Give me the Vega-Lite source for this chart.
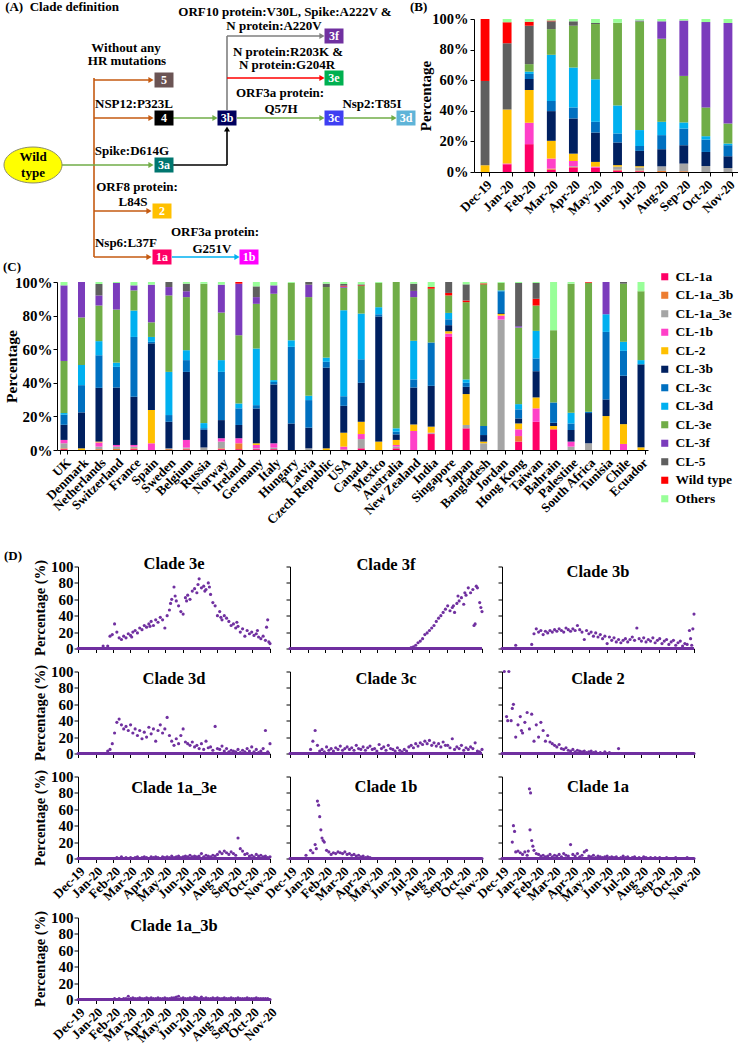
{
"$schema":"https://vega.github.io/schema/vega-lite/v6.json",
"padding":{"left":2,"top":1,"right":0,"bottom":0},
"autosize":{"type":"pad"},
"config":{
"font":"Liberation Serif",
"view":{"stroke":null},
"axis":{"labelFont":"Liberation Serif","labelFontWeight":"bold","labelColor":"#000","titleFont":"Liberation Serif","titleFontWeight":"bold","titleColor":"#000","domainColor":"#000","tickColor":"#000","grid":false,"labelFontSize":13,"tickSize":4},
"title":{"font":"Liberation Serif","fontWeight":"bold","color":"#000","fontSize":16.5},
"legend":{"labelFont":"Liberation Serif","labelFontWeight":"bold","labelColor":"#000","labelFontSize":13.5},
"text":{"font":"Liberation Serif"}
},
"datasets":{
"nodes":[{"id":"5","x":162,"y":80},{"id":"4","x":162,"y":118},{"id":"3a","x":162,"y":165},{"id":"2","x":160,"y":211},{"id":"1a","x":160,"y":257},{"id":"1b","x":247,"y":257},{"id":"3b","x":225,"y":118},{"id":"3f","x":332,"y":36},{"id":"3e","x":332,"y":78},{"id":"3c","x":332,"y":118},{"id":"3d","x":404,"y":118}],
"d":[
{"c":"3e","d":"2019-12-01","v":0},{"c":"3e","d":"2019-12-05","v":0},{"c":"3e","d":"2019-12-09","v":0},{"c":"3e","d":"2019-12-13","v":0},{"c":"3e","d":"2019-12-17","v":0},{"c":"3e","d":"2019-12-21","v":0},{"c":"3e","d":"2019-12-25","v":0},{"c":"3e","d":"2019-12-29","v":0},{"c":"3e","d":"2020-01-02","v":0},{"c":"3e","d":"2020-01-06","v":0},{"c":"3e","d":"2020-01-10","v":0},{"c":"3e","d":"2020-01-14","v":3},{"c":"3e","d":"2020-01-18","v":0},{"c":"3e","d":"2020-01-22","v":3},{"c":"3e","d":"2020-01-26","v":15},{"c":"3e","d":"2020-01-30","v":17},{"c":"3e","d":"2020-02-03","v":30},{"c":"3e","d":"2020-02-07","v":20},{"c":"3e","d":"2020-02-11","v":13},{"c":"3e","d":"2020-02-15","v":11},{"c":"3e","d":"2020-02-19","v":15},{"c":"3e","d":"2020-02-23","v":13},{"c":"3e","d":"2020-02-27","v":18},{"c":"3e","d":"2020-03-02","v":16},{"c":"3e","d":"2020-03-06","v":20},{"c":"3e","d":"2020-03-10","v":22},{"c":"3e","d":"2020-03-14","v":19},{"c":"3e","d":"2020-03-18","v":25},{"c":"3e","d":"2020-03-22","v":23},{"c":"3e","d":"2020-03-26","v":28},{"c":"3e","d":"2020-03-30","v":26},{"c":"3e","d":"2020-04-03","v":30},{"c":"3e","d":"2020-04-07","v":33},{"c":"3e","d":"2020-04-11","v":28},{"c":"3e","d":"2020-04-15","v":35},{"c":"3e","d":"2020-04-19","v":32},{"c":"3e","d":"2020-04-23","v":38},{"c":"3e","d":"2020-04-27","v":35},{"c":"3e","d":"2020-05-01","v":25},{"c":"3e","d":"2020-05-05","v":40},{"c":"3e","d":"2020-05-09","v":47},{"c":"3e","d":"2020-05-13","v":60},{"c":"3e","d":"2020-05-17","v":75},{"c":"3e","d":"2020-05-21","v":58},{"c":"3e","d":"2020-05-25","v":52},{"c":"3e","d":"2020-05-29","v":45},{"c":"3e","d":"2020-06-02","v":42},{"c":"3e","d":"2020-06-06","v":62},{"c":"3e","d":"2020-06-10","v":65},{"c":"3e","d":"2020-06-14","v":60},{"c":"3e","d":"2020-06-18","v":70},{"c":"3e","d":"2020-06-22","v":73},{"c":"3e","d":"2020-06-26","v":68},{"c":"3e","d":"2020-06-30","v":85},{"c":"3e","d":"2020-07-04","v":74},{"c":"3e","d":"2020-07-08","v":76},{"c":"3e","d":"2020-07-12","v":72},{"c":"3e","d":"2020-07-16","v":80},{"c":"3e","d":"2020-07-20","v":66},{"c":"3e","d":"2020-07-24","v":56},{"c":"3e","d":"2020-07-28","v":52},{"c":"3e","d":"2020-08-01","v":40},{"c":"3e","d":"2020-08-05","v":45},{"c":"3e","d":"2020-08-09","v":35},{"c":"3e","d":"2020-08-13","v":40},{"c":"3e","d":"2020-08-17","v":37},{"c":"3e","d":"2020-08-21","v":33},{"c":"3e","d":"2020-08-25","v":28},{"c":"3e","d":"2020-08-29","v":30},{"c":"3e","d":"2020-09-02","v":25},{"c":"3e","d":"2020-09-06","v":27},{"c":"3e","d":"2020-09-10","v":20},{"c":"3e","d":"2020-09-14","v":24},{"c":"3e","d":"2020-09-18","v":15},{"c":"3e","d":"2020-09-22","v":22},{"c":"3e","d":"2020-09-26","v":18},{"c":"3e","d":"2020-09-30","v":20},{"c":"3e","d":"2020-10-04","v":16},{"c":"3e","d":"2020-10-08","v":18},{"c":"3e","d":"2020-10-12","v":14},{"c":"3e","d":"2020-10-16","v":12},{"c":"3e","d":"2020-10-20","v":15},{"c":"3e","d":"2020-10-24","v":10},{"c":"3e","d":"2020-10-28","v":35},{"c":"3e","d":"2020-11-01","v":6},
{"c":"3e","d":"2020-03-04","v":14},{"c":"3e","d":"2020-04-05","v":27},{"c":"3e","d":"2020-05-11","v":55},{"c":"3e","d":"2020-05-19","v":64},{"c":"3e","d":"2020-06-08","v":58},{"c":"3e","d":"2020-06-28","v":78},{"c":"3e","d":"2020-07-10","v":70},{"c":"3e","d":"2020-07-18","v":75},{"c":"3e","d":"2020-08-07","v":38},{"c":"3e","d":"2020-09-04","v":32},{"c":"3e","d":"2020-10-10","v":22},{"c":"3e","d":"2020-10-26","v":26},{"c":"3e","d":"2020-10-30","v":8},
{"c":"3f","d":"2019-12-01","v":0},{"c":"3f","d":"2019-12-05","v":0},{"c":"3f","d":"2019-12-09","v":0},{"c":"3f","d":"2019-12-13","v":0},{"c":"3f","d":"2019-12-17","v":0},{"c":"3f","d":"2019-12-21","v":0},{"c":"3f","d":"2019-12-25","v":0},{"c":"3f","d":"2019-12-29","v":0},{"c":"3f","d":"2020-01-02","v":0},{"c":"3f","d":"2020-01-06","v":0},{"c":"3f","d":"2020-01-10","v":0},{"c":"3f","d":"2020-01-14","v":0},{"c":"3f","d":"2020-01-18","v":0},{"c":"3f","d":"2020-01-22","v":0},{"c":"3f","d":"2020-01-26","v":0},{"c":"3f","d":"2020-01-30","v":0},{"c":"3f","d":"2020-02-03","v":0},{"c":"3f","d":"2020-02-07","v":0},{"c":"3f","d":"2020-02-11","v":0},{"c":"3f","d":"2020-02-15","v":0},{"c":"3f","d":"2020-02-19","v":0},{"c":"3f","d":"2020-02-23","v":0},{"c":"3f","d":"2020-02-27","v":0},{"c":"3f","d":"2020-03-02","v":0},{"c":"3f","d":"2020-03-06","v":0},{"c":"3f","d":"2020-03-10","v":0},{"c":"3f","d":"2020-03-14","v":0},{"c":"3f","d":"2020-03-18","v":0},{"c":"3f","d":"2020-03-22","v":0},{"c":"3f","d":"2020-03-26","v":0},{"c":"3f","d":"2020-03-30","v":0},{"c":"3f","d":"2020-04-03","v":0},{"c":"3f","d":"2020-04-07","v":0},{"c":"3f","d":"2020-04-11","v":0},{"c":"3f","d":"2020-04-15","v":0},{"c":"3f","d":"2020-04-19","v":0},{"c":"3f","d":"2020-04-23","v":0},{"c":"3f","d":"2020-04-27","v":0},{"c":"3f","d":"2020-05-01","v":0},{"c":"3f","d":"2020-05-05","v":0},{"c":"3f","d":"2020-05-09","v":0},{"c":"3f","d":"2020-05-13","v":0},{"c":"3f","d":"2020-05-17","v":0},{"c":"3f","d":"2020-05-21","v":0},{"c":"3f","d":"2020-05-25","v":0},{"c":"3f","d":"2020-05-29","v":0},{"c":"3f","d":"2020-06-02","v":0},{"c":"3f","d":"2020-06-06","v":0},{"c":"3f","d":"2020-06-10","v":0},{"c":"3f","d":"2020-06-14","v":0},{"c":"3f","d":"2020-06-18","v":0},{"c":"3f","d":"2020-06-22","v":0},{"c":"3f","d":"2020-06-26","v":0},{"c":"3f","d":"2020-06-30","v":1},{"c":"3f","d":"2020-07-04","v":2},{"c":"3f","d":"2020-07-08","v":4},{"c":"3f","d":"2020-07-12","v":7},{"c":"3f","d":"2020-07-16","v":9},{"c":"3f","d":"2020-07-20","v":12},{"c":"3f","d":"2020-07-24","v":17},{"c":"3f","d":"2020-07-28","v":19},{"c":"3f","d":"2020-08-01","v":22},{"c":"3f","d":"2020-08-05","v":25},{"c":"3f","d":"2020-08-09","v":28},{"c":"3f","d":"2020-08-13","v":33},{"c":"3f","d":"2020-08-17","v":37},{"c":"3f","d":"2020-08-21","v":40},{"c":"3f","d":"2020-08-25","v":44},{"c":"3f","d":"2020-08-29","v":48},{"c":"3f","d":"2020-09-02","v":52},{"c":"3f","d":"2020-09-06","v":46},{"c":"3f","d":"2020-09-10","v":50},{"c":"3f","d":"2020-09-14","v":44},{"c":"3f","d":"2020-09-18","v":55},{"c":"3f","d":"2020-09-22","v":58},{"c":"3f","d":"2020-09-26","v":62},{"c":"3f","d":"2020-09-30","v":54},{"c":"3f","d":"2020-10-04","v":65},{"c":"3f","d":"2020-10-08","v":74},{"c":"3f","d":"2020-10-12","v":68},{"c":"3f","d":"2020-10-16","v":72},{"c":"3f","d":"2020-10-20","v":30},{"c":"3f","d":"2020-10-24","v":74},{"c":"3f","d":"2020-10-28","v":56},{"c":"3f","d":"2020-11-01","v":45},
{"c":"3f","d":"2020-09-12","v":52},{"c":"3f","d":"2020-09-20","v":64},{"c":"3f","d":"2020-10-02","v":68},{"c":"3f","d":"2020-10-18","v":28},{"c":"3f","d":"2020-10-22","v":76},{"c":"3f","d":"2020-10-30","v":50},
{"c":"3b","d":"2019-12-01","v":0},{"c":"3b","d":"2019-12-05","v":0},{"c":"3b","d":"2019-12-09","v":0},{"c":"3b","d":"2019-12-13","v":0},{"c":"3b","d":"2019-12-17","v":0},{"c":"3b","d":"2019-12-21","v":0},{"c":"3b","d":"2019-12-25","v":4},{"c":"3b","d":"2019-12-29","v":0},{"c":"3b","d":"2020-01-02","v":0},{"c":"3b","d":"2020-01-06","v":0},{"c":"3b","d":"2020-01-10","v":0},{"c":"3b","d":"2020-01-14","v":0},{"c":"3b","d":"2020-01-18","v":0},{"c":"3b","d":"2020-01-22","v":5},{"c":"3b","d":"2020-01-26","v":18},{"c":"3b","d":"2020-01-30","v":24},{"c":"3b","d":"2020-02-03","v":20},{"c":"3b","d":"2020-02-07","v":22},{"c":"3b","d":"2020-02-11","v":17},{"c":"3b","d":"2020-02-15","v":21},{"c":"3b","d":"2020-02-19","v":19},{"c":"3b","d":"2020-02-23","v":22},{"c":"3b","d":"2020-02-27","v":20},{"c":"3b","d":"2020-03-02","v":23},{"c":"3b","d":"2020-03-06","v":21},{"c":"3b","d":"2020-03-10","v":24},{"c":"3b","d":"2020-03-14","v":22},{"c":"3b","d":"2020-03-18","v":20},{"c":"3b","d":"2020-03-22","v":25},{"c":"3b","d":"2020-03-26","v":23},{"c":"3b","d":"2020-03-30","v":21},{"c":"3b","d":"2020-04-03","v":24},{"c":"3b","d":"2020-04-07","v":22},{"c":"3b","d":"2020-04-11","v":28},{"c":"3b","d":"2020-04-15","v":23},{"c":"3b","d":"2020-04-19","v":20},{"c":"3b","d":"2020-04-23","v":11},{"c":"3b","d":"2020-04-27","v":22},{"c":"3b","d":"2020-05-01","v":18},{"c":"3b","d":"2020-05-05","v":20},{"c":"3b","d":"2020-05-09","v":15},{"c":"3b","d":"2020-05-13","v":19},{"c":"3b","d":"2020-05-17","v":14},{"c":"3b","d":"2020-05-21","v":17},{"c":"3b","d":"2020-05-25","v":12},{"c":"3b","d":"2020-05-29","v":15},{"c":"3b","d":"2020-06-02","v":6},{"c":"3b","d":"2020-06-06","v":14},{"c":"3b","d":"2020-06-10","v":10},{"c":"3b","d":"2020-06-14","v":13},{"c":"3b","d":"2020-06-18","v":8},{"c":"3b","d":"2020-06-22","v":11},{"c":"3b","d":"2020-06-26","v":7},{"c":"3b","d":"2020-06-30","v":10},{"c":"3b","d":"2020-07-04","v":12},{"c":"3b","d":"2020-07-08","v":8},{"c":"3b","d":"2020-07-12","v":11},{"c":"3b","d":"2020-07-16","v":14},{"c":"3b","d":"2020-07-20","v":10},{"c":"3b","d":"2020-07-24","v":25},{"c":"3b","d":"2020-07-28","v":12},{"c":"3b","d":"2020-08-01","v":9},{"c":"3b","d":"2020-08-05","v":13},{"c":"3b","d":"2020-08-09","v":8},{"c":"3b","d":"2020-08-13","v":11},{"c":"3b","d":"2020-08-17","v":9},{"c":"3b","d":"2020-08-21","v":13},{"c":"3b","d":"2020-08-25","v":7},{"c":"3b","d":"2020-08-29","v":10},{"c":"3b","d":"2020-09-02","v":12},{"c":"3b","d":"2020-09-06","v":6},{"c":"3b","d":"2020-09-10","v":9},{"c":"3b","d":"2020-09-14","v":11},{"c":"3b","d":"2020-09-18","v":5},{"c":"3b","d":"2020-09-22","v":8},{"c":"3b","d":"2020-09-26","v":10},{"c":"3b","d":"2020-09-30","v":4},{"c":"3b","d":"2020-10-04","v":7},{"c":"3b","d":"2020-10-08","v":9},{"c":"3b","d":"2020-10-12","v":3},{"c":"3b","d":"2020-10-16","v":6},{"c":"3b","d":"2020-10-20","v":5},{"c":"3b","d":"2020-10-24","v":22},{"c":"3b","d":"2020-10-28","v":4},{"c":"3b","d":"2020-11-01","v":42},
{"c":"3b","d":"2020-10-26","v":12},{"c":"3b","d":"2020-10-30","v":24},
{"c":"3d","d":"2019-12-01","v":0},{"c":"3d","d":"2019-12-05","v":0},{"c":"3d","d":"2019-12-09","v":0},{"c":"3d","d":"2019-12-13","v":0},{"c":"3d","d":"2019-12-17","v":0},{"c":"3d","d":"2019-12-21","v":0},{"c":"3d","d":"2019-12-25","v":0},{"c":"3d","d":"2019-12-29","v":0},{"c":"3d","d":"2020-01-02","v":0},{"c":"3d","d":"2020-01-06","v":0},{"c":"3d","d":"2020-01-10","v":0},{"c":"3d","d":"2020-01-14","v":0},{"c":"3d","d":"2020-01-18","v":0},{"c":"3d","d":"2020-01-22","v":3},{"c":"3d","d":"2020-01-26","v":5},{"c":"3d","d":"2020-01-30","v":12},{"c":"3d","d":"2020-02-03","v":25},{"c":"3d","d":"2020-02-07","v":38},{"c":"3d","d":"2020-02-11","v":42},{"c":"3d","d":"2020-02-15","v":35},{"c":"3d","d":"2020-02-19","v":30},{"c":"3d","d":"2020-02-23","v":33},{"c":"3d","d":"2020-02-27","v":28},{"c":"3d","d":"2020-03-02","v":35},{"c":"3d","d":"2020-03-06","v":25},{"c":"3d","d":"2020-03-10","v":30},{"c":"3d","d":"2020-03-14","v":22},{"c":"3d","d":"2020-03-18","v":28},{"c":"3d","d":"2020-03-22","v":18},{"c":"3d","d":"2020-03-26","v":26},{"c":"3d","d":"2020-03-30","v":20},{"c":"3d","d":"2020-04-03","v":32},{"c":"3d","d":"2020-04-07","v":24},{"c":"3d","d":"2020-04-11","v":30},{"c":"3d","d":"2020-04-15","v":15},{"c":"3d","d":"2020-04-19","v":28},{"c":"3d","d":"2020-04-23","v":35},{"c":"3d","d":"2020-04-27","v":25},{"c":"3d","d":"2020-05-01","v":30},{"c":"3d","d":"2020-05-05","v":44},{"c":"3d","d":"2020-05-09","v":22},{"c":"3d","d":"2020-05-13","v":15},{"c":"3d","d":"2020-05-17","v":10},{"c":"3d","d":"2020-05-21","v":18},{"c":"3d","d":"2020-05-25","v":12},{"c":"3d","d":"2020-05-29","v":22},{"c":"3d","d":"2020-06-02","v":30},{"c":"3d","d":"2020-06-06","v":14},{"c":"3d","d":"2020-06-10","v":12},{"c":"3d","d":"2020-06-14","v":10},{"c":"3d","d":"2020-06-18","v":14},{"c":"3d","d":"2020-06-22","v":8},{"c":"3d","d":"2020-06-26","v":10},{"c":"3d","d":"2020-06-30","v":6},{"c":"3d","d":"2020-07-04","v":12},{"c":"3d","d":"2020-07-08","v":5},{"c":"3d","d":"2020-07-12","v":15},{"c":"3d","d":"2020-07-16","v":7},{"c":"3d","d":"2020-07-20","v":8},{"c":"3d","d":"2020-07-24","v":4},{"c":"3d","d":"2020-07-28","v":33},{"c":"3d","d":"2020-08-01","v":6},{"c":"3d","d":"2020-08-05","v":5},{"c":"3d","d":"2020-08-09","v":9},{"c":"3d","d":"2020-08-13","v":3},{"c":"3d","d":"2020-08-17","v":6},{"c":"3d","d":"2020-08-21","v":2},{"c":"3d","d":"2020-08-25","v":4},{"c":"3d","d":"2020-08-29","v":3},{"c":"3d","d":"2020-09-02","v":2},{"c":"3d","d":"2020-09-06","v":5},{"c":"3d","d":"2020-09-10","v":1},{"c":"3d","d":"2020-09-14","v":4},{"c":"3d","d":"2020-09-18","v":2},{"c":"3d","d":"2020-09-22","v":6},{"c":"3d","d":"2020-09-26","v":3},{"c":"3d","d":"2020-09-30","v":8},{"c":"3d","d":"2020-10-04","v":2},{"c":"3d","d":"2020-10-08","v":5},{"c":"3d","d":"2020-10-12","v":1},{"c":"3d","d":"2020-10-16","v":3},{"c":"3d","d":"2020-10-20","v":6},{"c":"3d","d":"2020-10-24","v":28},{"c":"3d","d":"2020-10-28","v":2},{"c":"3d","d":"2020-11-01","v":12},
{"c":"3c","d":"2019-12-01","v":0},{"c":"3c","d":"2019-12-05","v":0},{"c":"3c","d":"2019-12-09","v":0},{"c":"3c","d":"2019-12-13","v":0},{"c":"3c","d":"2019-12-17","v":0},{"c":"3c","d":"2019-12-21","v":0},{"c":"3c","d":"2019-12-25","v":0},{"c":"3c","d":"2019-12-29","v":0},{"c":"3c","d":"2020-01-02","v":0},{"c":"3c","d":"2020-01-06","v":5},{"c":"3c","d":"2020-01-10","v":15},{"c":"3c","d":"2020-01-14","v":28},{"c":"3c","d":"2020-01-18","v":10},{"c":"3c","d":"2020-01-22","v":3},{"c":"3c","d":"2020-01-26","v":5},{"c":"3c","d":"2020-01-30","v":2},{"c":"3c","d":"2020-02-03","v":8},{"c":"3c","d":"2020-02-07","v":4},{"c":"3c","d":"2020-02-11","v":6},{"c":"3c","d":"2020-02-15","v":3},{"c":"3c","d":"2020-02-19","v":7},{"c":"3c","d":"2020-02-23","v":5},{"c":"3c","d":"2020-02-27","v":9},{"c":"3c","d":"2020-03-02","v":4},{"c":"3c","d":"2020-03-06","v":6},{"c":"3c","d":"2020-03-10","v":8},{"c":"3c","d":"2020-03-14","v":5},{"c":"3c","d":"2020-03-18","v":7},{"c":"3c","d":"2020-03-22","v":4},{"c":"3c","d":"2020-03-26","v":10},{"c":"3c","d":"2020-03-30","v":6},{"c":"3c","d":"2020-04-03","v":5},{"c":"3c","d":"2020-04-07","v":8},{"c":"3c","d":"2020-04-11","v":4},{"c":"3c","d":"2020-04-15","v":7},{"c":"3c","d":"2020-04-19","v":9},{"c":"3c","d":"2020-04-23","v":5},{"c":"3c","d":"2020-04-27","v":6},{"c":"3c","d":"2020-05-01","v":3},{"c":"3c","d":"2020-05-05","v":11},{"c":"3c","d":"2020-05-09","v":6},{"c":"3c","d":"2020-05-13","v":8},{"c":"3c","d":"2020-05-17","v":4},{"c":"3c","d":"2020-05-21","v":10},{"c":"3c","d":"2020-05-25","v":6},{"c":"3c","d":"2020-05-29","v":5},{"c":"3c","d":"2020-06-02","v":3},{"c":"3c","d":"2020-06-06","v":7},{"c":"3c","d":"2020-06-10","v":4},{"c":"3c","d":"2020-06-14","v":2},{"c":"3c","d":"2020-06-18","v":5},{"c":"3c","d":"2020-06-22","v":3},{"c":"3c","d":"2020-06-26","v":8},{"c":"3c","d":"2020-06-30","v":10},{"c":"3c","d":"2020-07-04","v":7},{"c":"3c","d":"2020-07-08","v":12},{"c":"3c","d":"2020-07-12","v":9},{"c":"3c","d":"2020-07-16","v":13},{"c":"3c","d":"2020-07-20","v":11},{"c":"3c","d":"2020-07-24","v":15},{"c":"3c","d":"2020-07-28","v":12},{"c":"3c","d":"2020-08-01","v":16},{"c":"3c","d":"2020-08-05","v":10},{"c":"3c","d":"2020-08-09","v":13},{"c":"3c","d":"2020-08-13","v":9},{"c":"3c","d":"2020-08-17","v":12},{"c":"3c","d":"2020-08-21","v":8},{"c":"3c","d":"2020-08-25","v":14},{"c":"3c","d":"2020-08-29","v":10},{"c":"3c","d":"2020-09-02","v":10},{"c":"3c","d":"2020-09-06","v":7},{"c":"3c","d":"2020-09-10","v":18},{"c":"3c","d":"2020-09-14","v":5},{"c":"3c","d":"2020-09-18","v":8},{"c":"3c","d":"2020-09-22","v":6},{"c":"3c","d":"2020-09-26","v":10},{"c":"3c","d":"2020-09-30","v":4},{"c":"3c","d":"2020-10-04","v":7},{"c":"3c","d":"2020-10-08","v":5},{"c":"3c","d":"2020-10-12","v":8},{"c":"3c","d":"2020-10-16","v":6},{"c":"3c","d":"2020-10-20","v":13},{"c":"3c","d":"2020-10-24","v":3},{"c":"3c","d":"2020-10-28","v":2},{"c":"3c","d":"2020-11-01","v":5},
{"c":"2","d":"2019-12-01","v":0},{"c":"2","d":"2019-12-05","v":100},{"c":"2","d":"2019-12-09","v":45},{"c":"2","d":"2019-12-13","v":100},{"c":"2","d":"2019-12-17","v":40},{"c":"2","d":"2019-12-21","v":60},{"c":"2","d":"2019-12-25","v":20},{"c":"2","d":"2019-12-29","v":35},{"c":"2","d":"2020-01-02","v":45},{"c":"2","d":"2020-01-06","v":25},{"c":"2","d":"2020-01-10","v":38},{"c":"2","d":"2020-01-14","v":50},{"c":"2","d":"2020-01-18","v":30},{"c":"2","d":"2020-01-22","v":48},{"c":"2","d":"2020-01-26","v":15},{"c":"2","d":"2020-01-30","v":35},{"c":"2","d":"2020-02-03","v":20},{"c":"2","d":"2020-02-07","v":38},{"c":"2","d":"2020-02-11","v":28},{"c":"2","d":"2020-02-15","v":15},{"c":"2","d":"2020-02-19","v":22},{"c":"2","d":"2020-02-23","v":14},{"c":"2","d":"2020-02-27","v":12},{"c":"2","d":"2020-03-02","v":10},{"c":"2","d":"2020-03-06","v":8},{"c":"2","d":"2020-03-10","v":11},{"c":"2","d":"2020-03-14","v":6},{"c":"2","d":"2020-03-18","v":5},{"c":"2","d":"2020-03-22","v":7},{"c":"2","d":"2020-03-26","v":4},{"c":"2","d":"2020-03-30","v":3},{"c":"2","d":"2020-04-03","v":5},{"c":"2","d":"2020-04-07","v":2},{"c":"2","d":"2020-04-11","v":4},{"c":"2","d":"2020-04-15","v":3},{"c":"2","d":"2020-04-19","v":2},{"c":"2","d":"2020-04-23","v":3},{"c":"2","d":"2020-04-27","v":1},{"c":"2","d":"2020-05-01","v":2},{"c":"2","d":"2020-05-05","v":3},{"c":"2","d":"2020-05-09","v":1},{"c":"2","d":"2020-05-13","v":2},{"c":"2","d":"2020-05-17","v":0},{"c":"2","d":"2020-05-21","v":1},{"c":"2","d":"2020-05-25","v":0},{"c":"2","d":"2020-05-29","v":2},{"c":"2","d":"2020-06-02","v":0},{"c":"2","d":"2020-06-06","v":1},{"c":"2","d":"2020-06-10","v":0},{"c":"2","d":"2020-06-14","v":0},{"c":"2","d":"2020-06-18","v":0},{"c":"2","d":"2020-06-22","v":6},{"c":"2","d":"2020-06-26","v":0},{"c":"2","d":"2020-06-30","v":0},{"c":"2","d":"2020-07-04","v":0},{"c":"2","d":"2020-07-08","v":0},{"c":"2","d":"2020-07-12","v":0},{"c":"2","d":"2020-07-16","v":0},{"c":"2","d":"2020-07-20","v":0},{"c":"2","d":"2020-07-24","v":0},{"c":"2","d":"2020-07-28","v":0},{"c":"2","d":"2020-08-01","v":0},{"c":"2","d":"2020-08-05","v":0},{"c":"2","d":"2020-08-09","v":0},{"c":"2","d":"2020-08-13","v":0},{"c":"2","d":"2020-08-17","v":0},{"c":"2","d":"2020-08-21","v":0},{"c":"2","d":"2020-08-25","v":0},{"c":"2","d":"2020-08-29","v":0},{"c":"2","d":"2020-09-02","v":0},{"c":"2","d":"2020-09-06","v":0},{"c":"2","d":"2020-09-10","v":0},{"c":"2","d":"2020-09-14","v":0},{"c":"2","d":"2020-09-18","v":0},{"c":"2","d":"2020-09-22","v":0},{"c":"2","d":"2020-09-26","v":0},{"c":"2","d":"2020-09-30","v":0},{"c":"2","d":"2020-10-04","v":0},{"c":"2","d":"2020-10-08","v":0},{"c":"2","d":"2020-10-12","v":0},{"c":"2","d":"2020-10-16","v":0},{"c":"2","d":"2020-10-20","v":0},{"c":"2","d":"2020-10-24","v":0},{"c":"2","d":"2020-10-28","v":0},{"c":"2","d":"2020-11-01","v":0},
{"c":"2","d":"2019-12-11","v":40},{"c":"2","d":"2019-12-19","v":55},{"c":"2","d":"2020-01-04","v":28},
{"c":"1a_3e","d":"2019-12-01","v":0},{"c":"1a_3e","d":"2019-12-05","v":0},{"c":"1a_3e","d":"2019-12-09","v":0},{"c":"1a_3e","d":"2019-12-13","v":0},{"c":"1a_3e","d":"2019-12-17","v":0},{"c":"1a_3e","d":"2019-12-21","v":0},{"c":"1a_3e","d":"2019-12-25","v":0},{"c":"1a_3e","d":"2019-12-29","v":0},{"c":"1a_3e","d":"2020-01-02","v":0},{"c":"1a_3e","d":"2020-01-06","v":0},{"c":"1a_3e","d":"2020-01-10","v":0},{"c":"1a_3e","d":"2020-01-14","v":0},{"c":"1a_3e","d":"2020-01-18","v":0},{"c":"1a_3e","d":"2020-01-22","v":0},{"c":"1a_3e","d":"2020-01-26","v":0},{"c":"1a_3e","d":"2020-01-30","v":0},{"c":"1a_3e","d":"2020-02-03","v":0},{"c":"1a_3e","d":"2020-02-07","v":1},{"c":"1a_3e","d":"2020-02-11","v":0},{"c":"1a_3e","d":"2020-02-15","v":2},{"c":"1a_3e","d":"2020-02-19","v":0},{"c":"1a_3e","d":"2020-02-23","v":1},{"c":"1a_3e","d":"2020-02-27","v":0},{"c":"1a_3e","d":"2020-03-02","v":1},{"c":"1a_3e","d":"2020-03-06","v":0},{"c":"1a_3e","d":"2020-03-10","v":1},{"c":"1a_3e","d":"2020-03-14","v":2},{"c":"1a_3e","d":"2020-03-18","v":0},{"c":"1a_3e","d":"2020-03-22","v":1},{"c":"1a_3e","d":"2020-03-26","v":2},{"c":"1a_3e","d":"2020-03-30","v":1},{"c":"1a_3e","d":"2020-04-03","v":0},{"c":"1a_3e","d":"2020-04-07","v":2},{"c":"1a_3e","d":"2020-04-11","v":1},{"c":"1a_3e","d":"2020-04-15","v":2},{"c":"1a_3e","d":"2020-04-19","v":1},{"c":"1a_3e","d":"2020-04-23","v":0},{"c":"1a_3e","d":"2020-04-27","v":2},{"c":"1a_3e","d":"2020-05-01","v":1},{"c":"1a_3e","d":"2020-05-05","v":2},{"c":"1a_3e","d":"2020-05-09","v":1},{"c":"1a_3e","d":"2020-05-13","v":3},{"c":"1a_3e","d":"2020-05-17","v":1},{"c":"1a_3e","d":"2020-05-21","v":2},{"c":"1a_3e","d":"2020-05-25","v":3},{"c":"1a_3e","d":"2020-05-29","v":1},{"c":"1a_3e","d":"2020-06-02","v":2},{"c":"1a_3e","d":"2020-06-06","v":3},{"c":"1a_3e","d":"2020-06-10","v":2},{"c":"1a_3e","d":"2020-06-14","v":4},{"c":"1a_3e","d":"2020-06-18","v":2},{"c":"1a_3e","d":"2020-06-22","v":3},{"c":"1a_3e","d":"2020-06-26","v":2},{"c":"1a_3e","d":"2020-06-30","v":3},{"c":"1a_3e","d":"2020-07-04","v":6},{"c":"1a_3e","d":"2020-07-08","v":2},{"c":"1a_3e","d":"2020-07-12","v":4},{"c":"1a_3e","d":"2020-07-16","v":3},{"c":"1a_3e","d":"2020-07-20","v":2},{"c":"1a_3e","d":"2020-07-24","v":4},{"c":"1a_3e","d":"2020-07-28","v":3},{"c":"1a_3e","d":"2020-08-01","v":5},{"c":"1a_3e","d":"2020-08-05","v":8},{"c":"1a_3e","d":"2020-08-09","v":6},{"c":"1a_3e","d":"2020-08-13","v":9},{"c":"1a_3e","d":"2020-08-17","v":7},{"c":"1a_3e","d":"2020-08-21","v":5},{"c":"1a_3e","d":"2020-08-25","v":8},{"c":"1a_3e","d":"2020-08-29","v":6},{"c":"1a_3e","d":"2020-09-02","v":4},{"c":"1a_3e","d":"2020-09-06","v":25},{"c":"1a_3e","d":"2020-09-10","v":12},{"c":"1a_3e","d":"2020-09-14","v":9},{"c":"1a_3e","d":"2020-09-18","v":5},{"c":"1a_3e","d":"2020-09-22","v":6},{"c":"1a_3e","d":"2020-09-26","v":3},{"c":"1a_3e","d":"2020-09-30","v":4},{"c":"1a_3e","d":"2020-10-04","v":2},{"c":"1a_3e","d":"2020-10-08","v":5},{"c":"1a_3e","d":"2020-10-12","v":3},{"c":"1a_3e","d":"2020-10-16","v":4},{"c":"1a_3e","d":"2020-10-20","v":2},{"c":"1a_3e","d":"2020-10-24","v":3},{"c":"1a_3e","d":"2020-10-28","v":1},{"c":"1a_3e","d":"2020-11-01","v":2},
{"c":"1b","d":"2019-12-01","v":0},{"c":"1b","d":"2019-12-05","v":0},{"c":"1b","d":"2019-12-09","v":0},{"c":"1b","d":"2019-12-13","v":0},{"c":"1b","d":"2019-12-17","v":0},{"c":"1b","d":"2019-12-21","v":0},{"c":"1b","d":"2019-12-25","v":0},{"c":"1b","d":"2019-12-29","v":4},{"c":"1b","d":"2020-01-02","v":0},{"c":"1b","d":"2020-01-06","v":10},{"c":"1b","d":"2020-01-10","v":7},{"c":"1b","d":"2020-01-14","v":17},{"c":"1b","d":"2020-01-18","v":70},{"c":"1b","d":"2020-01-22","v":51},{"c":"1b","d":"2020-01-26","v":25},{"c":"1b","d":"2020-01-30","v":20},{"c":"1b","d":"2020-02-03","v":10},{"c":"1b","d":"2020-02-07","v":8},{"c":"1b","d":"2020-02-11","v":5},{"c":"1b","d":"2020-02-15","v":7},{"c":"1b","d":"2020-02-19","v":6},{"c":"1b","d":"2020-02-23","v":8},{"c":"1b","d":"2020-02-27","v":7},{"c":"1b","d":"2020-03-02","v":6},{"c":"1b","d":"2020-03-06","v":8},{"c":"1b","d":"2020-03-10","v":5},{"c":"1b","d":"2020-03-14","v":6},{"c":"1b","d":"2020-03-18","v":4},{"c":"1b","d":"2020-03-22","v":5},{"c":"1b","d":"2020-03-26","v":3},{"c":"1b","d":"2020-03-30","v":4},{"c":"1b","d":"2020-04-03","v":2},{"c":"1b","d":"2020-04-07","v":3},{"c":"1b","d":"2020-04-11","v":1},{"c":"1b","d":"2020-04-15","v":2},{"c":"1b","d":"2020-04-19","v":1},{"c":"1b","d":"2020-04-23","v":0},{"c":"1b","d":"2020-04-27","v":0},{"c":"1b","d":"2020-05-01","v":0},{"c":"1b","d":"2020-05-05","v":0},{"c":"1b","d":"2020-05-09","v":0},{"c":"1b","d":"2020-05-13","v":0},{"c":"1b","d":"2020-05-17","v":0},{"c":"1b","d":"2020-05-21","v":0},{"c":"1b","d":"2020-05-25","v":0},{"c":"1b","d":"2020-05-29","v":0},{"c":"1b","d":"2020-06-02","v":0},{"c":"1b","d":"2020-06-06","v":0},{"c":"1b","d":"2020-06-10","v":0},{"c":"1b","d":"2020-06-14","v":0},{"c":"1b","d":"2020-06-18","v":0},{"c":"1b","d":"2020-06-22","v":0},{"c":"1b","d":"2020-06-26","v":0},{"c":"1b","d":"2020-06-30","v":0},{"c":"1b","d":"2020-07-04","v":0},{"c":"1b","d":"2020-07-08","v":0},{"c":"1b","d":"2020-07-12","v":0},{"c":"1b","d":"2020-07-16","v":0},{"c":"1b","d":"2020-07-20","v":0},{"c":"1b","d":"2020-07-24","v":0},{"c":"1b","d":"2020-07-28","v":0},{"c":"1b","d":"2020-08-01","v":0},{"c":"1b","d":"2020-08-05","v":0},{"c":"1b","d":"2020-08-09","v":0},{"c":"1b","d":"2020-08-13","v":0},{"c":"1b","d":"2020-08-17","v":0},{"c":"1b","d":"2020-08-21","v":0},{"c":"1b","d":"2020-08-25","v":0},{"c":"1b","d":"2020-08-29","v":0},{"c":"1b","d":"2020-09-02","v":0},{"c":"1b","d":"2020-09-06","v":0},{"c":"1b","d":"2020-09-10","v":0},{"c":"1b","d":"2020-09-14","v":0},{"c":"1b","d":"2020-09-18","v":0},{"c":"1b","d":"2020-09-22","v":0},{"c":"1b","d":"2020-09-26","v":0},{"c":"1b","d":"2020-09-30","v":0},{"c":"1b","d":"2020-10-04","v":0},{"c":"1b","d":"2020-10-08","v":0},{"c":"1b","d":"2020-10-12","v":0},{"c":"1b","d":"2020-10-16","v":0},{"c":"1b","d":"2020-10-20","v":0},{"c":"1b","d":"2020-10-24","v":0},{"c":"1b","d":"2020-10-28","v":0},{"c":"1b","d":"2020-11-01","v":0},
{"c":"1b","d":"2020-01-16","v":12},{"c":"1b","d":"2020-01-20","v":65},{"c":"1b","d":"2020-01-24","v":35},{"c":"1b","d":"2020-01-28","v":22},
{"c":"1a","d":"2019-12-01","v":0},{"c":"1a","d":"2019-12-05","v":0},{"c":"1a","d":"2019-12-09","v":0},{"c":"1a","d":"2019-12-13","v":0},{"c":"1a","d":"2019-12-17","v":0},{"c":"1a","d":"2019-12-21","v":40},{"c":"1a","d":"2019-12-25","v":8},{"c":"1a","d":"2019-12-29","v":9},{"c":"1a","d":"2020-01-02","v":7},{"c":"1a","d":"2020-01-06","v":5},{"c":"1a","d":"2020-01-10","v":8},{"c":"1a","d":"2020-01-14","v":4},{"c":"1a","d":"2020-01-18","v":85},{"c":"1a","d":"2020-01-22","v":22},{"c":"1a","d":"2020-01-26","v":10},{"c":"1a","d":"2020-01-30","v":6},{"c":"1a","d":"2020-02-03","v":5},{"c":"1a","d":"2020-02-07","v":3},{"c":"1a","d":"2020-02-11","v":4},{"c":"1a","d":"2020-02-15","v":2},{"c":"1a","d":"2020-02-19","v":3},{"c":"1a","d":"2020-02-23","v":5},{"c":"1a","d":"2020-02-27","v":2},{"c":"1a","d":"2020-03-02","v":4},{"c":"1a","d":"2020-03-06","v":3},{"c":"1a","d":"2020-03-10","v":5},{"c":"1a","d":"2020-03-14","v":2},{"c":"1a","d":"2020-03-18","v":6},{"c":"1a","d":"2020-03-22","v":4},{"c":"1a","d":"2020-03-26","v":3},{"c":"1a","d":"2020-03-30","v":17},{"c":"1a","d":"2020-04-03","v":5},{"c":"1a","d":"2020-04-07","v":3},{"c":"1a","d":"2020-04-11","v":6},{"c":"1a","d":"2020-04-15","v":2},{"c":"1a","d":"2020-04-19","v":4},{"c":"1a","d":"2020-04-23","v":8},{"c":"1a","d":"2020-04-27","v":10},{"c":"1a","d":"2020-05-01","v":3},{"c":"1a","d":"2020-05-05","v":2},{"c":"1a","d":"2020-05-09","v":4},{"c":"1a","d":"2020-05-13","v":1},{"c":"1a","d":"2020-05-17","v":3},{"c":"1a","d":"2020-05-21","v":2},{"c":"1a","d":"2020-05-25","v":1},{"c":"1a","d":"2020-05-29","v":2},{"c":"1a","d":"2020-06-02","v":3},{"c":"1a","d":"2020-06-06","v":1},{"c":"1a","d":"2020-06-10","v":2},{"c":"1a","d":"2020-06-14","v":1},{"c":"1a","d":"2020-06-18","v":2},{"c":"1a","d":"2020-06-22","v":0},{"c":"1a","d":"2020-06-26","v":1},{"c":"1a","d":"2020-06-30","v":3},{"c":"1a","d":"2020-07-04","v":1},{"c":"1a","d":"2020-07-08","v":2},{"c":"1a","d":"2020-07-12","v":0},{"c":"1a","d":"2020-07-16","v":1},{"c":"1a","d":"2020-07-20","v":2},{"c":"1a","d":"2020-07-24","v":0},{"c":"1a","d":"2020-07-28","v":1},{"c":"1a","d":"2020-08-01","v":0},{"c":"1a","d":"2020-08-05","v":2},{"c":"1a","d":"2020-08-09","v":1},{"c":"1a","d":"2020-08-13","v":0},{"c":"1a","d":"2020-08-17","v":1},{"c":"1a","d":"2020-08-21","v":0},{"c":"1a","d":"2020-08-25","v":1},{"c":"1a","d":"2020-08-29","v":0},{"c":"1a","d":"2020-09-02","v":1},{"c":"1a","d":"2020-09-06","v":0},{"c":"1a","d":"2020-09-10","v":0},{"c":"1a","d":"2020-09-14","v":1},{"c":"1a","d":"2020-09-18","v":0},{"c":"1a","d":"2020-09-22","v":0},{"c":"1a","d":"2020-09-26","v":0},{"c":"1a","d":"2020-09-30","v":1},{"c":"1a","d":"2020-10-04","v":0},{"c":"1a","d":"2020-10-08","v":0},{"c":"1a","d":"2020-10-12","v":0},{"c":"1a","d":"2020-10-16","v":0},{"c":"1a","d":"2020-10-20","v":1},{"c":"1a","d":"2020-10-24","v":0},{"c":"1a","d":"2020-10-28","v":0},{"c":"1a","d":"2020-11-01","v":0},
{"c":"1a","d":"2019-12-19","v":20},{"c":"1a","d":"2019-12-23","v":33},{"c":"1a","d":"2020-01-16","v":9},{"c":"1a","d":"2020-01-19","v":35},{"c":"1a","d":"2020-01-20","v":80},{"c":"1a","d":"2020-01-24","v":15},
{"c":"1a_3b","d":"2019-12-01","v":0},{"c":"1a_3b","d":"2019-12-05","v":0},{"c":"1a_3b","d":"2019-12-09","v":0},{"c":"1a_3b","d":"2019-12-13","v":0},{"c":"1a_3b","d":"2019-12-17","v":0},{"c":"1a_3b","d":"2019-12-21","v":0},{"c":"1a_3b","d":"2019-12-25","v":0},{"c":"1a_3b","d":"2019-12-29","v":0},{"c":"1a_3b","d":"2020-01-02","v":0},{"c":"1a_3b","d":"2020-01-06","v":0},{"c":"1a_3b","d":"2020-01-10","v":0},{"c":"1a_3b","d":"2020-01-14","v":0},{"c":"1a_3b","d":"2020-01-18","v":0},{"c":"1a_3b","d":"2020-01-22","v":0},{"c":"1a_3b","d":"2020-01-26","v":0},{"c":"1a_3b","d":"2020-01-30","v":0},{"c":"1a_3b","d":"2020-02-03","v":1},{"c":"1a_3b","d":"2020-02-07","v":0},{"c":"1a_3b","d":"2020-02-11","v":1},{"c":"1a_3b","d":"2020-02-15","v":0},{"c":"1a_3b","d":"2020-02-19","v":1},{"c":"1a_3b","d":"2020-02-23","v":1},{"c":"1a_3b","d":"2020-02-27","v":4},{"c":"1a_3b","d":"2020-03-02","v":1},{"c":"1a_3b","d":"2020-03-06","v":2},{"c":"1a_3b","d":"2020-03-10","v":1},{"c":"1a_3b","d":"2020-03-14","v":1},{"c":"1a_3b","d":"2020-03-18","v":2},{"c":"1a_3b","d":"2020-03-22","v":1},{"c":"1a_3b","d":"2020-03-26","v":1},{"c":"1a_3b","d":"2020-03-30","v":2},{"c":"1a_3b","d":"2020-04-03","v":1},{"c":"1a_3b","d":"2020-04-07","v":2},{"c":"1a_3b","d":"2020-04-11","v":1},{"c":"1a_3b","d":"2020-04-15","v":1},{"c":"1a_3b","d":"2020-04-19","v":2},{"c":"1a_3b","d":"2020-04-23","v":1},{"c":"1a_3b","d":"2020-04-27","v":1},{"c":"1a_3b","d":"2020-05-01","v":2},{"c":"1a_3b","d":"2020-05-05","v":1},{"c":"1a_3b","d":"2020-05-09","v":1},{"c":"1a_3b","d":"2020-05-13","v":2},{"c":"1a_3b","d":"2020-05-17","v":2},{"c":"1a_3b","d":"2020-05-21","v":3},{"c":"1a_3b","d":"2020-05-25","v":4},{"c":"1a_3b","d":"2020-05-29","v":1},{"c":"1a_3b","d":"2020-06-02","v":2},{"c":"1a_3b","d":"2020-06-06","v":1},{"c":"1a_3b","d":"2020-06-10","v":1},{"c":"1a_3b","d":"2020-06-14","v":2},{"c":"1a_3b","d":"2020-06-18","v":1},{"c":"1a_3b","d":"2020-06-22","v":3},{"c":"1a_3b","d":"2020-06-26","v":2},{"c":"1a_3b","d":"2020-06-30","v":1},{"c":"1a_3b","d":"2020-07-04","v":3},{"c":"1a_3b","d":"2020-07-08","v":1},{"c":"1a_3b","d":"2020-07-12","v":2},{"c":"1a_3b","d":"2020-07-16","v":1},{"c":"1a_3b","d":"2020-07-20","v":1},{"c":"1a_3b","d":"2020-07-24","v":2},{"c":"1a_3b","d":"2020-07-28","v":1},{"c":"1a_3b","d":"2020-08-01","v":2},{"c":"1a_3b","d":"2020-08-05","v":1},{"c":"1a_3b","d":"2020-08-09","v":1},{"c":"1a_3b","d":"2020-08-13","v":2},{"c":"1a_3b","d":"2020-08-17","v":1},{"c":"1a_3b","d":"2020-08-21","v":1},{"c":"1a_3b","d":"2020-08-25","v":2},{"c":"1a_3b","d":"2020-08-29","v":1},{"c":"1a_3b","d":"2020-09-02","v":1},{"c":"1a_3b","d":"2020-09-06","v":2},{"c":"1a_3b","d":"2020-09-10","v":1},{"c":"1a_3b","d":"2020-09-14","v":1},{"c":"1a_3b","d":"2020-09-18","v":1},{"c":"1a_3b","d":"2020-09-22","v":2},{"c":"1a_3b","d":"2020-09-26","v":1},{"c":"1a_3b","d":"2020-09-30","v":1},{"c":"1a_3b","d":"2020-10-04","v":1},{"c":"1a_3b","d":"2020-10-08","v":2},{"c":"1a_3b","d":"2020-10-12","v":1},{"c":"1a_3b","d":"2020-10-16","v":1},{"c":"1a_3b","d":"2020-10-20","v":1},{"c":"1a_3b","d":"2020-10-24","v":1},{"c":"1a_3b","d":"2020-10-28","v":1},{"c":"1a_3b","d":"2020-11-01","v":0}
]
},
"spacing":22.5,
"resolve":{"scale":{"color":"independent"},"legend":{"color":"independent"}},
"vconcat":[
{"spacing":-4,
"resolve":{"scale":{"color":"independent"},"legend":{"color":"independent"}},
"vconcat":[
{"bounds":"flush","spacing":42,
"resolve":{"scale":{"color":"independent"},"legend":{"color":"independent"}},
"hconcat":[
{"width":375,"height":253,
"layer":[
{"data":{"values":[
{"x":92,"y":78,"x2":92,"y2":257,"g":"o"},{"x":92,"y":80,"x2":148,"y2":80,"g":"o"},{"x":92,"y":118,"x2":148,"y2":118,"g":"o"},{"x":60,"y":165,"x2":148,"y2":165,"g":"g"},{"x":92,"y":211,"x2":146,"y2":211,"g":"o"},{"x":92,"y":257,"x2":146,"y2":257,"g":"o"},{"x":171,"y":118,"x2":212,"y2":118,"g":"g"},{"x":171,"y":165,"x2":225,"y2":165,"g":"k"},{"x":225,"y":165,"x2":225,"y2":130,"g":"k"},{"x":235,"y":118,"x2":319,"y2":118,"g":"g"},{"x":342,"y":118,"x2":391,"y2":118,"g":"g"},{"x":225,"y":110,"x2":225,"y2":36,"g":"gr"},{"x":225,"y":36,"x2":319,"y2":36,"g":"gr"},{"x":225,"y":78,"x2":319,"y2":78,"g":"r"},{"x":170,"y":257,"x2":234,"y2":257,"g":"c"}]},
"mark":{"type":"rule","strokeWidth":1.6},
"encoding":{"x":{"field":"x","type":"quantitative","scale":{"domain":[55,430],"nice":false,"zero":false},"axis":null},"y":{"field":"y","type":"quantitative","scale":{"domain":[272,19],"nice":false,"zero":false},"axis":null},"x2":{"field":"x2"},"y2":{"field":"y2"},
"stroke":{"field":"g","type":"nominal","scale":{"domain":["o","g","k","gr","r","c"],"range":["#c55a11","#70ad47","#000000","#7f7f7f","#ff0000","#00b0f0"]},"legend":null}}},
{"data":{"values":[
{"x":149,"y":80,"g":"o","dir":"r"},{"x":149,"y":118,"g":"o","dir":"r"},{"x":149,"y":165,"g":"g","dir":"r"},{"x":147,"y":211,"g":"o","dir":"r"},{"x":147,"y":257,"g":"o","dir":"r"},{"x":213,"y":118,"g":"g","dir":"r"},{"x":320,"y":118,"g":"g","dir":"r"},{"x":392,"y":118,"g":"g","dir":"r"},{"x":320,"y":36,"g":"gr","dir":"r"},{"x":320,"y":78,"g":"r","dir":"r"},{"x":235,"y":257,"g":"c","dir":"r"},{"x":225,"y":129,"g":"k","dir":"u"}]},
"mark":{"type":"point","filled":true,"size":36,"opacity":1},
"encoding":{"x":{"field":"x","type":"quantitative","scale":{"domain":[55,430],"nice":false,"zero":false},"axis":null},"y":{"field":"y","type":"quantitative","scale":{"domain":[272,19],"nice":false,"zero":false},"axis":null},
"color":{"field":"g","type":"nominal","scale":{"domain":["o","g","k","gr","r","c"],"range":["#c55a11","#70ad47","#000000","#7f7f7f","#ff0000","#00b0f0"]},"legend":null},
"shape":{"field":"dir","type":"nominal","scale":{"domain":["r","u"],"range":["triangle-right","triangle-up"]},"legend":null}}},
{"data":{"values":[{"x":31,"y":165}]},
"mark":{"type":"point","shape":"M-1,0C-1,-0.342,-0.552,-0.62,0,-0.62C0.552,-0.62,1,-0.342,1,0C1,0.342,0.552,0.62,0,0.62C-0.552,0.62,-1,0.342,-1,0Z","size":3364,"filled":true,"fill":"#ffff00","stroke":"#8c8c6a","strokeWidth":1,"opacity":1},
"encoding":{"x":{"field":"x","type":"quantitative","scale":{"domain":[55,430],"nice":false,"zero":false},"axis":null},"y":{"field":"y","type":"quantitative","scale":{"domain":[272,19],"nice":false,"zero":false},"axis":null}}},
{"data":{"name":"nodes"},
"mark":{"type":"point","shape":"M-1,-0.79H1V0.79H-1Z","size":361,"filled":true,"opacity":1,"strokeWidth":0},
"encoding":{"x":{"field":"x","type":"quantitative","scale":{"domain":[55,430],"nice":false,"zero":false},"axis":null},"y":{"field":"y","type":"quantitative","scale":{"domain":[272,19],"nice":false,"zero":false},"axis":null},
"fill":{"field":"id","type":"nominal","scale":{"domain":["5","4","3a","2","1a","1b","3b","3f","3e","3c","3d"],"range":["#6b5454","#000000","#00766f","#ffc000","#ff0066","#ff00ff","#00005e","#7030a0","#00b050","#3f3ff2","#5fb4d8"]},"legend":null}}},
{"data":{"name":"nodes"},
"mark":{"type":"text","color":"#ffffff","fontWeight":"bold","fontSize":12,"baseline":"middle","align":"center"},
"encoding":{"x":{"field":"x","type":"quantitative","scale":{"domain":[55,430],"nice":false,"zero":false},"axis":null},"y":{"field":"y","type":"quantitative","scale":{"domain":[272,19],"nice":false,"zero":false},"axis":null},"text":{"field":"id"}}},
{"data":{"values":[
{"t":"(A)\u00a0 Clade definition","x":60,"y":7},{"t":"ORF10 protein:V30L, Spike:A222V &","x":283,"y":12},{"t":"N protein:A220V","x":272,"y":26},{"t":"Without any","x":124,"y":48},{"t":"HR mutations","x":125,"y":61},{"t":"NSP12:P323L","x":132,"y":104},{"t":"Spike:D614G","x":130,"y":151},{"t":"ORF8 protein:","x":135,"y":187},{"t":"L84S","x":131,"y":202},{"t":"Nsp6:L37F","x":124,"y":243},{"t":"ORF3a protein:","x":213,"y":232},{"t":"G251V","x":210,"y":249},{"t":"N protein:R203K &","x":286,"y":52},{"t":"N protein:G204R","x":285,"y":65},{"t":"ORF3a protein:","x":278,"y":93},{"t":"Q57H","x":279,"y":109},{"t":"Nsp2:T85I","x":370,"y":104},{"t":"Wild","x":31,"y":157},{"t":"type","x":31,"y":173},{"t":"(C)","x":10,"y":267}]},
"mark":{"type":"text","fontWeight":"bold","fontSize":13,"color":"#000000","baseline":"middle","align":"center"},
"encoding":{"x":{"field":"x","type":"quantitative","scale":{"domain":[55,430],"nice":false,"zero":false},"axis":null},"y":{"field":"y","type":"quantitative","scale":{"domain":[272,19],"nice":false,"zero":false},"axis":null},"text":{"field":"t"}}}
]},
{"width":265,"height":153,
"title":{"text":"(B)","anchor":"start","frame":"group","dx":-64,"offset":-3,"fontSize":13},
"data":{"values":[
{"m":"Dec-19","k":"CL-2","v":4.4},{"m":"Dec-19","k":"CL-5","v":55.1},{"m":"Dec-19","k":"Wild type","v":40.5},
{"m":"Jan-20","k":"CL-1a","v":5},{"m":"Jan-20","k":"CL-1b","v":0.5},{"m":"Jan-20","k":"CL-2","v":35.4},{"m":"Jan-20","k":"CL-5","v":43.3},{"m":"Jan-20","k":"Wild type","v":13.6},{"m":"Jan-20","k":"Others","v":2.2},
{"m":"Feb-20","k":"CL-1a","v":18.2},{"m":"Feb-20","k":"CL-1b","v":14},{"m":"Feb-20","k":"CL-2","v":21.4},{"m":"Feb-20","k":"CL-3b","v":7.2},{"m":"Feb-20","k":"CL-3c","v":3.3},{"m":"Feb-20","k":"CL-3d","v":1.5},{"m":"Feb-20","k":"CL-3e","v":4.9},{"m":"Feb-20","k":"CL-5","v":25.1},{"m":"Feb-20","k":"Wild type","v":2.6},{"m":"Feb-20","k":"Others","v":1.8},
{"m":"Mar-20","k":"CL-1a","v":1.5},{"m":"Mar-20","k":"CL-1a_3b","v":0.7},{"m":"Mar-20","k":"CL-1b","v":6.6},{"m":"Mar-20","k":"CL-2","v":11.6},{"m":"Mar-20","k":"CL-3b","v":19.4},{"m":"Mar-20","k":"CL-3c","v":6.6},{"m":"Mar-20","k":"CL-3d","v":30.2},{"m":"Mar-20","k":"CL-3e","v":16.8},{"m":"Mar-20","k":"CL-5","v":5.1},{"m":"Mar-20","k":"Wild type","v":0.5},{"m":"Mar-20","k":"Others","v":1},
{"m":"Apr-20","k":"CL-1a","v":3},{"m":"Apr-20","k":"CL-1a_3b","v":0.3},{"m":"Apr-20","k":"CL-1a_3e","v":0.5},{"m":"Apr-20","k":"CL-1b","v":3.4},{"m":"Apr-20","k":"CL-2","v":4.8},{"m":"Apr-20","k":"CL-3b","v":23},{"m":"Apr-20","k":"CL-3c","v":7.2},{"m":"Apr-20","k":"CL-3d","v":26.1},{"m":"Apr-20","k":"CL-3e","v":27.3},{"m":"Apr-20","k":"CL-5","v":2.9},{"m":"Apr-20","k":"Others","v":1.5},
{"m":"May-20","k":"CL-1a","v":2.8},{"m":"May-20","k":"CL-1b","v":0.7},{"m":"May-20","k":"CL-2","v":3.1},{"m":"May-20","k":"CL-3b","v":19.2},{"m":"May-20","k":"CL-3c","v":7},{"m":"May-20","k":"CL-3d","v":27.8},{"m":"May-20","k":"CL-3e","v":36.1},{"m":"May-20","k":"CL-5","v":0.7},{"m":"May-20","k":"Others","v":2.6},
{"m":"Jun-20","k":"CL-1a","v":1},{"m":"Jun-20","k":"CL-1a_3b","v":0.5},{"m":"Jun-20","k":"CL-1a_3e","v":2},{"m":"Jun-20","k":"CL-2","v":1},{"m":"Jun-20","k":"CL-3b","v":14.8},{"m":"Jun-20","k":"CL-3c","v":5.9},{"m":"Jun-20","k":"CL-3d","v":18.3},{"m":"Jun-20","k":"CL-3e","v":53.9},{"m":"Jun-20","k":"CL-3f","v":0.1},{"m":"Jun-20","k":"Others","v":2.5},
{"m":"Jul-20","k":"CL-1a","v":0.5},{"m":"Jul-20","k":"CL-1a_3b","v":0.5},{"m":"Jul-20","k":"CL-1a_3e","v":2},{"m":"Jul-20","k":"CL-2","v":0.8},{"m":"Jul-20","k":"CL-3b","v":10},{"m":"Jul-20","k":"CL-3c","v":3.2},{"m":"Jul-20","k":"CL-3d","v":10.4},{"m":"Jul-20","k":"CL-3e","v":71.1},{"m":"Jul-20","k":"CL-3f","v":0.5},{"m":"Jul-20","k":"Others","v":1},
{"m":"Aug-20","k":"CL-1a_3b","v":0.7},{"m":"Aug-20","k":"CL-1a_3e","v":3},{"m":"Aug-20","k":"CL-3b","v":11.2},{"m":"Aug-20","k":"CL-3c","v":9.2},{"m":"Aug-20","k":"CL-3d","v":8.7},{"m":"Aug-20","k":"CL-3e","v":54.3},{"m":"Aug-20","k":"CL-3f","v":11.4},{"m":"Aug-20","k":"Others","v":1.5},
{"m":"Sep-20","k":"CL-1a_3b","v":0.5},{"m":"Sep-20","k":"CL-1a_3e","v":5},{"m":"Sep-20","k":"CL-3b","v":12},{"m":"Sep-20","k":"CL-3c","v":10.9},{"m":"Sep-20","k":"CL-3d","v":4},{"m":"Sep-20","k":"CL-3e","v":30.4},{"m":"Sep-20","k":"CL-3f","v":36.2},{"m":"Sep-20","k":"Others","v":1},
{"m":"Oct-20","k":"CL-1a_3e","v":3.9},{"m":"Oct-20","k":"CL-3b","v":9.2},{"m":"Oct-20","k":"CL-3c","v":8.1},{"m":"Oct-20","k":"CL-3d","v":2.2},{"m":"Oct-20","k":"CL-3e","v":18.8},{"m":"Oct-20","k":"CL-3f","v":55.8},{"m":"Oct-20","k":"Others","v":2},
{"m":"Nov-20","k":"CL-1a_3e","v":2.6},{"m":"Nov-20","k":"CL-3b","v":7.7},{"m":"Nov-20","k":"CL-3c","v":7.2},{"m":"Nov-20","k":"CL-3d","v":1.1},{"m":"Nov-20","k":"CL-3e","v":13.1},{"m":"Nov-20","k":"CL-3f","v":65.7},{"m":"Nov-20","k":"Others","v":2.6}]},
"transform":[{"calculate":"indexof(['CL-1a','CL-1a_3b','CL-1a_3e','CL-1b','CL-2','CL-3b','CL-3c','CL-3d','CL-3e','CL-3f','CL-5','Wild type','Others'], datum.k)","as":"o"}],
"mark":{"type":"bar"},
"encoding":{
"x":{"field":"m","type":"nominal","sort":null,"scale":{"paddingInner":0.6,"paddingOuter":0.3},"axis":{"title":null,"labelAngle":-45,"labelFontSize":13,"tickBand":"extent","labelOverlap":false}},
"y":{"field":"v","type":"quantitative","stack":"zero","scale":{"domain":[0,100],"nice":false},"axis":{"values":[0,20,40,60,80,100],"labelExpr":"datum.value + '%'","title":"Percentage","labelFontSize":14.5,"titleFontSize":15,"labelPadding":2,"titlePadding":-2}},
"color":{"field":"k","type":"nominal","scale":{"domain":["CL-1a","CL-1a_3b","CL-1a_3e","CL-1b","CL-2","CL-3b","CL-3c","CL-3d","CL-3e","CL-3f","CL-5","Wild type","Others"],"range":["#ff0066","#ed7d31","#a5a5a5","#ff40c8","#ffc000","#002060","#0070c0","#00b0f0","#70ad47","#7b3cbc","#5f5f5f","#ff0000","#99ff99"]},"legend":null},
"order":{"field":"o","type":"quantitative"}}}
]},
{"width":591,"height":168,
"data":{"values":[
{"n":"UK","k":"CL-1a","v":0.5},{"n":"UK","k":"CL-1a_3b","v":0.5},{"n":"UK","k":"CL-1a_3e","v":3},{"n":"UK","k":"CL-1b","v":2},{"n":"UK","k":"CL-3b","v":9},{"n":"UK","k":"CL-3c","v":6},{"n":"UK","k":"CL-3d","v":1},{"n":"UK","k":"CL-3e","v":31},{"n":"UK","k":"CL-3f","v":45},{"n":"UK","k":"Others","v":2},
{"n":"Denmark","k":"CL-2","v":1},{"n":"Denmark","k":"CL-3b","v":21.4},{"n":"Denmark","k":"CL-3c","v":16.2},{"n":"Denmark","k":"CL-3d","v":12},{"n":"Denmark","k":"CL-3e","v":28.3},{"n":"Denmark","k":"CL-3f","v":21.1},
{"n":"Netherlands","k":"CL-1a_3b","v":0.5},{"n":"Netherlands","k":"CL-1a_3e","v":1.5},{"n":"Netherlands","k":"CL-1b","v":2.5},{"n":"Netherlands","k":"CL-2","v":0.5},{"n":"Netherlands","k":"CL-3b","v":32},{"n":"Netherlands","k":"CL-3c","v":19.4},{"n":"Netherlands","k":"CL-3d","v":8.4},{"n":"Netherlands","k":"CL-3e","v":21.2},{"n":"Netherlands","k":"CL-3f","v":6},{"n":"Netherlands","k":"CL-5","v":6.8},{"n":"Netherlands","k":"Others","v":1.2},
{"n":"Switzerland","k":"CL-1a_3b","v":0.6},{"n":"Switzerland","k":"CL-1a_3e","v":1.4},{"n":"Switzerland","k":"CL-1b","v":1},{"n":"Switzerland","k":"CL-3b","v":34.2},{"n":"Switzerland","k":"CL-3c","v":12.3},{"n":"Switzerland","k":"CL-3d","v":2.5},{"n":"Switzerland","k":"CL-3e","v":31.6},{"n":"Switzerland","k":"CL-3f","v":15.8},{"n":"Switzerland","k":"Others","v":0.6},
{"n":"France","k":"CL-1a","v":0.5},{"n":"France","k":"CL-1a_3b","v":0.5},{"n":"France","k":"CL-1a_3e","v":1},{"n":"France","k":"CL-1b","v":1},{"n":"France","k":"CL-3b","v":28.7},{"n":"France","k":"CL-3c","v":35.6},{"n":"France","k":"CL-3d","v":15.7},{"n":"France","k":"CL-3e","v":12},{"n":"France","k":"CL-3f","v":3},{"n":"France","k":"Others","v":2},
{"n":"Spain","k":"CL-1b","v":4},{"n":"Spain","k":"CL-2","v":19.8},{"n":"Spain","k":"CL-3b","v":39.7},{"n":"Spain","k":"CL-3c","v":0.9},{"n":"Spain","k":"CL-3d","v":2.9},{"n":"Spain","k":"CL-3e","v":8.7},{"n":"Spain","k":"CL-3f","v":22.4},{"n":"Spain","k":"Others","v":1.6},
{"n":"Sweden","k":"CL-1a_3b","v":0.5},{"n":"Sweden","k":"CL-1a_3e","v":0.5},{"n":"Sweden","k":"CL-3b","v":15.8},{"n":"Sweden","k":"CL-3c","v":4},{"n":"Sweden","k":"CL-3d","v":25.7},{"n":"Sweden","k":"CL-3e","v":45.5},{"n":"Sweden","k":"CL-3f","v":5},{"n":"Sweden","k":"CL-5","v":3},
{"n":"Belgium","k":"CL-1a","v":0.4},{"n":"Belgium","k":"CL-1a_3b","v":0.4},{"n":"Belgium","k":"CL-1a_3e","v":0.6},{"n":"Belgium","k":"CL-1b","v":4.6},{"n":"Belgium","k":"CL-3b","v":40.5},{"n":"Belgium","k":"CL-3c","v":7},{"n":"Belgium","k":"CL-3d","v":5.9},{"n":"Belgium","k":"CL-3e","v":31.6},{"n":"Belgium","k":"CL-3f","v":3.5},{"n":"Belgium","k":"CL-5","v":4.5},{"n":"Belgium","k":"Others","v":1},
{"n":"Russia","k":"CL-1a_3e","v":1.5},{"n":"Russia","k":"CL-3b","v":10.5},{"n":"Russia","k":"CL-3c","v":1},{"n":"Russia","k":"CL-3d","v":3},{"n":"Russia","k":"CL-3e","v":83},{"n":"Russia","k":"Others","v":1},
{"n":"Norway","k":"CL-1a","v":0.5},{"n":"Norway","k":"CL-1a_3b","v":0.5},{"n":"Norway","k":"CL-1a_3e","v":4},{"n":"Norway","k":"CL-1b","v":2},{"n":"Norway","k":"CL-3b","v":10.8},{"n":"Norway","k":"CL-3c","v":28.7},{"n":"Norway","k":"CL-3d","v":7},{"n":"Norway","k":"CL-3e","v":28.3},{"n":"Norway","k":"CL-3f","v":16.6},{"n":"Norway","k":"Others","v":1.6},
{"n":"Ireland","k":"CL-1a","v":0.5},{"n":"Ireland","k":"CL-1a_3b","v":3.5},{"n":"Ireland","k":"CL-1b","v":3},{"n":"Ireland","k":"CL-3b","v":7.9},{"n":"Ireland","k":"CL-3c","v":9.9},{"n":"Ireland","k":"CL-3d","v":2.9},{"n":"Ireland","k":"CL-3e","v":40.6},{"n":"Ireland","k":"CL-3f","v":30.7},{"n":"Ireland","k":"Wild type","v":1},
{"n":"Germany","k":"CL-1a","v":0.5},{"n":"Germany","k":"CL-1a_3e","v":0.5},{"n":"Germany","k":"CL-1b","v":2},{"n":"Germany","k":"CL-2","v":1},{"n":"Germany","k":"CL-3b","v":20.7},{"n":"Germany","k":"CL-3c","v":2},{"n":"Germany","k":"CL-3d","v":33.7},{"n":"Germany","k":"CL-3e","v":26.6},{"n":"Germany","k":"CL-3f","v":4},{"n":"Germany","k":"CL-5","v":6.4},{"n":"Germany","k":"Others","v":2.6},
{"n":"Italy","k":"CL-1a","v":0.5},{"n":"Italy","k":"CL-1a_3e","v":0.9},{"n":"Italy","k":"CL-1b","v":2.6},{"n":"Italy","k":"CL-3b","v":35},{"n":"Italy","k":"CL-3c","v":1.5},{"n":"Italy","k":"CL-3d","v":1.1},{"n":"Italy","k":"CL-3e","v":51.4},{"n":"Italy","k":"CL-3f","v":5},{"n":"Italy","k":"Others","v":2},
{"n":"Hungary","k":"CL-3b","v":15.8},{"n":"Hungary","k":"CL-3c","v":45.6},{"n":"Hungary","k":"CL-3d","v":3.9},{"n":"Hungary","k":"CL-3e","v":34.2},{"n":"Hungary","k":"Others","v":0.5},
{"n":"Latvia","k":"CL-1a_3e","v":1},{"n":"Latvia","k":"CL-3b","v":12.3},{"n":"Latvia","k":"CL-3c","v":16.4},{"n":"Latvia","k":"CL-3d","v":2.6},{"n":"Latvia","k":"CL-3e","v":58.7},{"n":"Latvia","k":"CL-3f","v":7.4},{"n":"Latvia","k":"CL-5","v":1.6},
{"n":"Czech Republic","k":"CL-2","v":1},{"n":"Czech Republic","k":"CL-3b","v":48},{"n":"Czech Republic","k":"CL-3c","v":3.5},{"n":"Czech Republic","k":"CL-3d","v":2.5},{"n":"Czech Republic","k":"CL-3e","v":42},{"n":"Czech Republic","k":"CL-5","v":2},{"n":"Czech Republic","k":"Others","v":1},
{"n":"USA","k":"CL-1a","v":0.3},{"n":"USA","k":"CL-1a_3e","v":0.2},{"n":"USA","k":"CL-1b","v":1.5},{"n":"USA","k":"CL-2","v":8.3},{"n":"USA","k":"CL-3b","v":16},{"n":"USA","k":"CL-3c","v":5.7},{"n":"USA","k":"CL-3d","v":51.2},{"n":"USA","k":"CL-3e","v":13.4},{"n":"USA","k":"CL-3f","v":0.7},{"n":"USA","k":"Wild type","v":0.5},{"n":"USA","k":"CL-5","v":1},{"n":"USA","k":"Others","v":1.2},
{"n":"Canada","k":"CL-1a","v":1},{"n":"Canada","k":"CL-1a_3e","v":5.5},{"n":"Canada","k":"CL-1b","v":3},{"n":"Canada","k":"CL-2","v":7.3},{"n":"Canada","k":"CL-3b","v":23.2},{"n":"Canada","k":"CL-3c","v":14},{"n":"Canada","k":"CL-3d","v":27.2},{"n":"Canada","k":"CL-3e","v":16.4},{"n":"Canada","k":"Wild type","v":0.4},{"n":"Canada","k":"CL-5","v":0.6},{"n":"Canada","k":"Others","v":1.4},
{"n":"Mexico","k":"CL-2","v":5},{"n":"Mexico","k":"CL-3b","v":74.5},{"n":"Mexico","k":"CL-3c","v":1.3},{"n":"Mexico","k":"CL-3d","v":4.2},{"n":"Mexico","k":"CL-3e","v":14.5},{"n":"Mexico","k":"Others","v":0.5},
{"n":"Australia","k":"CL-1a","v":1},{"n":"Australia","k":"CL-1a_3e","v":1},{"n":"Australia","k":"CL-1b","v":1},{"n":"Australia","k":"CL-2","v":3},{"n":"Australia","k":"CL-3b","v":3.3},{"n":"Australia","k":"CL-3c","v":1.6},{"n":"Australia","k":"CL-3d","v":2},{"n":"Australia","k":"CL-3e","v":87.1},
{"n":"New Zealand","k":"CL-1b","v":11.3},{"n":"New Zealand","k":"CL-2","v":3.9},{"n":"New Zealand","k":"CL-3b","v":22},{"n":"New Zealand","k":"CL-3c","v":4.8},{"n":"New Zealand","k":"CL-3d","v":23},{"n":"New Zealand","k":"CL-3e","v":26},{"n":"New Zealand","k":"CL-3f","v":3.7},{"n":"New Zealand","k":"CL-5","v":4.3},{"n":"New Zealand","k":"Others","v":1},
{"n":"India","k":"CL-1a","v":9.5},{"n":"India","k":"CL-1a_3e","v":0.5},{"n":"India","k":"CL-1b","v":0.3},{"n":"India","k":"CL-2","v":3.6},{"n":"India","k":"CL-3b","v":24.3},{"n":"India","k":"CL-3c","v":25.8},{"n":"India","k":"CL-3e","v":32},{"n":"India","k":"Wild type","v":1},{"n":"India","k":"Others","v":3},
{"n":"Singapore","k":"CL-1a","v":67.3},{"n":"Singapore","k":"CL-1b","v":2},{"n":"Singapore","k":"CL-2","v":1.4},{"n":"Singapore","k":"CL-3b","v":3.6},{"n":"Singapore","k":"CL-3c","v":3.5},{"n":"Singapore","k":"CL-3d","v":3.8},{"n":"Singapore","k":"CL-3e","v":10.4},{"n":"Singapore","k":"Wild type","v":1.5},{"n":"Singapore","k":"CL-5","v":6.5},
{"n":"Japan","k":"CL-1a","v":12.9},{"n":"Japan","k":"CL-1a_3e","v":2},{"n":"Japan","k":"CL-2","v":18.4},{"n":"Japan","k":"CL-3b","v":4.3},{"n":"Japan","k":"CL-3c","v":2.4},{"n":"Japan","k":"CL-3d","v":2},{"n":"Japan","k":"CL-3e","v":46},{"n":"Japan","k":"Wild type","v":1},{"n":"Japan","k":"CL-5","v":9.6},{"n":"Japan","k":"Others","v":1.4},
{"n":"Bangladesh","k":"CL-1a_3e","v":4},{"n":"Bangladesh","k":"CL-2","v":1},{"n":"Bangladesh","k":"CL-3b","v":3.9},{"n":"Bangladesh","k":"CL-3c","v":5.4},{"n":"Bangladesh","k":"CL-3e","v":84.3},{"n":"Bangladesh","k":"Wild type","v":0.6},{"n":"Bangladesh","k":"Others","v":0.8},
{"n":"Jordan","k":"CL-1a_3e","v":77.6},{"n":"Jordan","k":"CL-1b","v":2.4},{"n":"Jordan","k":"CL-2","v":1},{"n":"Jordan","k":"CL-3b","v":0.5},{"n":"Jordan","k":"CL-3c","v":13},{"n":"Jordan","k":"CL-3d","v":0.5},{"n":"Jordan","k":"CL-3e","v":4.5},{"n":"Jordan","k":"Others","v":0.5},
{"n":"Hong Kong","k":"CL-1a","v":5},{"n":"Hong Kong","k":"CL-1a_3b","v":3.3},{"n":"Hong Kong","k":"CL-1b","v":4},{"n":"Hong Kong","k":"CL-2","v":3.5},{"n":"Hong Kong","k":"CL-3b","v":3},{"n":"Hong Kong","k":"CL-3c","v":5.4},{"n":"Hong Kong","k":"CL-3d","v":3.1},{"n":"Hong Kong","k":"CL-3e","v":45.6},{"n":"Hong Kong","k":"CL-3f","v":0.8},{"n":"Hong Kong","k":"CL-5","v":25.7},{"n":"Hong Kong","k":"Others","v":0.6},
{"n":"Taiwan","k":"CL-1a","v":16.8},{"n":"Taiwan","k":"CL-1b","v":8},{"n":"Taiwan","k":"CL-2","v":6.5},{"n":"Taiwan","k":"CL-3b","v":15.6},{"n":"Taiwan","k":"CL-3c","v":7.6},{"n":"Taiwan","k":"CL-3d","v":16.4},{"n":"Taiwan","k":"CL-3e","v":15.1},{"n":"Taiwan","k":"Wild type","v":4},{"n":"Taiwan","k":"CL-5","v":9.4},{"n":"Taiwan","k":"Others","v":0.6},
{"n":"Bahrain","k":"CL-1a","v":12.3},{"n":"Bahrain","k":"CL-2","v":2},{"n":"Bahrain","k":"CL-3b","v":1.9},{"n":"Bahrain","k":"CL-3c","v":12.1},{"n":"Bahrain","k":"CL-3e","v":43},{"n":"Bahrain","k":"Others","v":28.7},
{"n":"Palestine","k":"CL-1a_3e","v":2},{"n":"Palestine","k":"CL-1b","v":3},{"n":"Palestine","k":"CL-3b","v":6.9},{"n":"Palestine","k":"CL-3c","v":3.9},{"n":"Palestine","k":"CL-3d","v":6.4},{"n":"Palestine","k":"CL-3e","v":76.8},{"n":"Palestine","k":"Others","v":1},
{"n":"South Africa","k":"CL-1a_3e","v":4},{"n":"South Africa","k":"CL-3b","v":18},{"n":"South Africa","k":"CL-3c","v":0.8},{"n":"South Africa","k":"CL-3e","v":76.8},{"n":"South Africa","k":"Wild type","v":0.4},
{"n":"Tunisia","k":"CL-2","v":20.2},{"n":"Tunisia","k":"CL-3b","v":9.9},{"n":"Tunisia","k":"CL-3c","v":40.2},{"n":"Tunisia","k":"CL-3d","v":10.5},{"n":"Tunisia","k":"CL-3f","v":19.2},
{"n":"Chile","k":"CL-1b","v":3.6},{"n":"Chile","k":"CL-2","v":11.8},{"n":"Chile","k":"CL-3b","v":28.8},{"n":"Chile","k":"CL-3c","v":14.8},{"n":"Chile","k":"CL-3d","v":5.4},{"n":"Chile","k":"CL-3e","v":34.6},{"n":"Chile","k":"CL-5","v":1},
{"n":"Ecuador","k":"CL-2","v":1.6},{"n":"Ecuador","k":"CL-3b","v":49.4},{"n":"Ecuador","k":"CL-3d","v":2.5},{"n":"Ecuador","k":"CL-3e","v":41},{"n":"Ecuador","k":"Others","v":5.5}]},
"transform":[{"calculate":"indexof(['CL-1a','CL-1a_3b','CL-1a_3e','CL-1b','CL-2','CL-3b','CL-3c','CL-3d','CL-3e','CL-3f','Wild type','CL-5','Others'], datum.k)","as":"o"}],
"mark":{"type":"bar"},
"encoding":{
"x":{"field":"n","type":"nominal","sort":null,"scale":{"paddingInner":0.6,"paddingOuter":0.2},"axis":{"title":null,"labelAngle":-45,"labelFontSize":13,"tickBand":"extent","labelOverlap":false}},
"y":{"field":"v","type":"quantitative","stack":"zero","scale":{"domain":[0,100],"nice":false},"axis":{"values":[0,20,40,60,80,100],"labelExpr":"datum.value + '%'","title":"Percentage","labelFontSize":15,"titleFontSize":15.5,"labelPadding":1,"titlePadding":-5}},
"color":{"field":"k","type":"nominal","scale":{"domain":["CL-1a","CL-1a_3b","CL-1a_3e","CL-1b","CL-2","CL-3b","CL-3c","CL-3d","CL-3e","CL-3f","CL-5","Wild type","Others"],"range":["#ff0066","#ed7d31","#a5a5a5","#ff40c8","#ffc000","#002060","#0070c0","#00b0f0","#70ad47","#7b3cbc","#5f5f5f","#ff0000","#99ff99"]},
"legend":{"title":null,"orient":"none","legendX":601,"legendY":-12,"direction":"vertical","symbolType":"square","symbolSize":50,"labelFontSize":13.5,"rowPadding":3.5,"labelOffset":4}},
"order":{"field":"o","type":"quantitative"}}}
]},
{"bounds":"flush","spacing":20,
"data":{"name":"d"},
"hconcat":[
{"width":1,"height":82,"data":{"values":[]},"mark":"point"},
{"spacing":6,
"vconcat":[
{"bounds":"flush","columns":3,"spacing":{"row":23,"column":20},
"title":{"text":"(D)","anchor":"start","frame":"group","dx":-74,"offset":-7,"fontSize":13},
"concat":[
{"width":192,"height":82,"title":{"text":"Clade 3e","offset":-12.5},"transform":[{"filter":"datum.c=='3e'"}],
"layer":[{"mark":{"type":"rule","color":"#7030a0","strokeWidth":2.5},"encoding":{"y":{"datum":0,"type":"quantitative","scale":{"domain":[0,100]},"axis":{"values":[0,20,40,60,80,100],"labelOverlap":false,"title":"Percentage (%)","labelFontSize":15,"titleFontSize":14.5,"labelPadding":1,"titlePadding":3}}}},
{"mark":{"type":"circle","color":"#7030a0","size":10,"opacity":1},"encoding":{"x":{"field":"d","type":"temporal","scale":{"domain":[{"year":2019,"month":12,"date":1},{"year":2020,"month":11,"date":1}]},"axis":{"title":null,"labels":false,"tickCount":{"interval":"month","step":1}}},"y":{"field":"v","type":"quantitative","scale":{"domain":[0,100]},"axis":{"values":[0,20,40,60,80,100],"labelOverlap":false,"title":"Percentage (%)","labelFontSize":15,"titleFontSize":14.5,"labelPadding":1,"titlePadding":3}}}}]},
{"width":192,"height":82,"title":{"text":"Clade 3f","offset":-7.5},"transform":[{"filter":"datum.c=='3f'"}],
"layer":[{"mark":{"type":"rule","color":"#7030a0","strokeWidth":2.5},"encoding":{"y":{"datum":0,"type":"quantitative","scale":{"domain":[0,100]},"axis":{"values":[0,20,40,60,80,100],"title":null,"labels":false}}}},
{"mark":{"type":"circle","color":"#7030a0","size":10,"opacity":1},"encoding":{"x":{"field":"d","type":"temporal","scale":{"domain":[{"year":2019,"month":12,"date":1},{"year":2020,"month":11,"date":1}]},"axis":{"title":null,"labels":false,"tickCount":{"interval":"month","step":1}}},"y":{"field":"v","type":"quantitative","scale":{"domain":[0,100]},"axis":{"values":[0,20,40,60,80,100],"title":null,"labels":false}}}}]},
{"width":192,"height":82,"title":{"text":"Clade 3b","offset":-14.5},"transform":[{"filter":"datum.c=='3b'"}],
"layer":[{"mark":{"type":"rule","color":"#7030a0","strokeWidth":2.5},"encoding":{"y":{"datum":0,"type":"quantitative","scale":{"domain":[0,100]},"axis":{"values":[0,20,40,60,80,100],"title":null,"labels":false}}}},
{"mark":{"type":"circle","color":"#7030a0","size":10,"opacity":1},"encoding":{"x":{"field":"d","type":"temporal","scale":{"domain":[{"year":2019,"month":12,"date":1},{"year":2020,"month":11,"date":1}]},"axis":{"title":null,"labels":false,"tickCount":{"interval":"month","step":1}}},"y":{"field":"v","type":"quantitative","scale":{"domain":[0,100]},"axis":{"values":[0,20,40,60,80,100],"title":null,"labels":false}}}}]},
{"width":192,"height":82,"title":{"text":"Clade 3d","offset":-22.5},"transform":[{"filter":"datum.c=='3d'"}],
"layer":[{"mark":{"type":"rule","color":"#7030a0","strokeWidth":2.5},"encoding":{"y":{"datum":0,"type":"quantitative","scale":{"domain":[0,100]},"axis":{"values":[0,20,40,60,80,100],"labelOverlap":false,"title":"Percentage (%)","labelFontSize":15,"titleFontSize":14.5,"labelPadding":1,"titlePadding":3}}}},
{"mark":{"type":"circle","color":"#7030a0","size":10,"opacity":1},"encoding":{"x":{"field":"d","type":"temporal","scale":{"domain":[{"year":2019,"month":12,"date":1},{"year":2020,"month":11,"date":1}]},"axis":{"title":null,"labels":false,"tickCount":{"interval":"month","step":1}}},"y":{"field":"v","type":"quantitative","scale":{"domain":[0,100]},"axis":{"values":[0,20,40,60,80,100],"labelOverlap":false,"title":"Percentage (%)","labelFontSize":15,"titleFontSize":14.5,"labelPadding":1,"titlePadding":3}}}}]},
{"width":192,"height":82,"title":{"text":"Clade 3c","offset":-16.4},"transform":[{"filter":"datum.c=='3c'"}],
"layer":[{"mark":{"type":"rule","color":"#7030a0","strokeWidth":2.5},"encoding":{"y":{"datum":0,"type":"quantitative","scale":{"domain":[0,100]},"axis":{"values":[0,20,40,60,80,100],"title":null,"labels":false}}}},
{"mark":{"type":"circle","color":"#7030a0","size":10,"opacity":1},"encoding":{"x":{"field":"d","type":"temporal","scale":{"domain":[{"year":2019,"month":12,"date":1},{"year":2020,"month":11,"date":1}]},"axis":{"title":null,"labels":false,"tickCount":{"interval":"month","step":1}}},"y":{"field":"v","type":"quantitative","scale":{"domain":[0,100]},"axis":{"values":[0,20,40,60,80,100],"title":null,"labels":false}}}}]},
{"width":192,"height":82,"title":{"text":"Clade 2","offset":-17.2},"transform":[{"filter":"datum.c=='2'"}],
"layer":[{"mark":{"type":"rule","color":"#7030a0","strokeWidth":2.5},"encoding":{"y":{"datum":0,"type":"quantitative","scale":{"domain":[0,100]},"axis":{"values":[0,20,40,60,80,100],"title":null,"labels":false}}}},
{"mark":{"type":"circle","color":"#7030a0","size":10,"opacity":1},"encoding":{"x":{"field":"d","type":"temporal","scale":{"domain":[{"year":2019,"month":12,"date":1},{"year":2020,"month":11,"date":1}]},"axis":{"title":null,"labels":false,"tickCount":{"interval":"month","step":1}}},"y":{"field":"v","type":"quantitative","scale":{"domain":[0,100]},"axis":{"values":[0,20,40,60,80,100],"title":null,"labels":false}}}}]},
{"width":192,"height":82,"title":{"text":"Clade 1a_3e","offset":-26.5},"transform":[{"filter":"datum.c=='1a_3e'"}],
"layer":[{"mark":{"type":"rule","color":"#7030a0","strokeWidth":2.5},"encoding":{"y":{"datum":0,"type":"quantitative","scale":{"domain":[0,100]},"axis":{"values":[0,20,40,60,80,100],"labelOverlap":false,"title":"Percentage (%)","labelFontSize":15,"titleFontSize":14.5,"labelPadding":1,"titlePadding":3}}}},
{"mark":{"type":"circle","color":"#7030a0","size":10,"opacity":1},"encoding":{"x":{"field":"d","type":"temporal","scale":{"domain":[{"year":2019,"month":12,"date":1},{"year":2020,"month":11,"date":1}]},"axis":{"title":null,"format":"%b-%y","labelAngle":-45,"labelOverlap":false,"tickCount":{"interval":"month","step":1}}},"y":{"field":"v","type":"quantitative","scale":{"domain":[0,100]},"axis":{"values":[0,20,40,60,80,100],"labelOverlap":false,"title":"Percentage (%)","labelFontSize":15,"titleFontSize":14.5,"labelPadding":1,"titlePadding":3}}}}]},
{"width":192,"height":82,"title":{"text":"Clade 1b","offset":-19.5},"transform":[{"filter":"datum.c=='1b'"}],
"layer":[{"mark":{"type":"rule","color":"#7030a0","strokeWidth":2.5},"encoding":{"y":{"datum":0,"type":"quantitative","scale":{"domain":[0,100]},"axis":{"values":[0,20,40,60,80,100],"title":null,"labels":false}}}},
{"mark":{"type":"circle","color":"#7030a0","size":10,"opacity":1},"encoding":{"x":{"field":"d","type":"temporal","scale":{"domain":[{"year":2019,"month":12,"date":1},{"year":2020,"month":11,"date":1}]},"axis":{"title":null,"format":"%b-%y","labelAngle":-45,"labelOverlap":false,"tickCount":{"interval":"month","step":1}}},"y":{"field":"v","type":"quantitative","scale":{"domain":[0,100]},"axis":{"values":[0,20,40,60,80,100],"title":null,"labels":false}}}}]},
{"width":192,"height":82,"title":{"text":"Clade 1a","offset":-19.5},"transform":[{"filter":"datum.c=='1a'"}],
"layer":[{"mark":{"type":"rule","color":"#7030a0","strokeWidth":2.5},"encoding":{"y":{"datum":0,"type":"quantitative","scale":{"domain":[0,100]},"axis":{"values":[0,20,40,60,80,100],"title":null,"labels":false}}}},
{"mark":{"type":"circle","color":"#7030a0","size":10,"opacity":1},"encoding":{"x":{"field":"d","type":"temporal","scale":{"domain":[{"year":2019,"month":12,"date":1},{"year":2020,"month":11,"date":1}]},"axis":{"title":null,"format":"%b-%y","labelAngle":-45,"labelOverlap":false,"tickCount":{"interval":"month","step":1}}},"y":{"field":"v","type":"quantitative","scale":{"domain":[0,100]},"axis":{"values":[0,20,40,60,80,100],"title":null,"labels":false}}}}]}
]},
{"width":192,"height":82,"title":{"text":"Clade 1a_3b","offset":-24},"transform":[{"filter":"datum.c=='1a_3b'"}],
"layer":[{"mark":{"type":"rule","color":"#7030a0","strokeWidth":2.5},"encoding":{"y":{"datum":0,"type":"quantitative","scale":{"domain":[0,100]},"axis":{"values":[0,20,40,60,80,100],"labelOverlap":false,"title":"Percentage (%)","labelFontSize":15,"titleFontSize":14.5,"labelPadding":1,"titlePadding":3}}}},
{"mark":{"type":"circle","color":"#7030a0","size":10,"opacity":1},"encoding":{"x":{"field":"d","type":"temporal","scale":{"domain":[{"year":2019,"month":12,"date":1},{"year":2020,"month":11,"date":1}]},"axis":{"title":null,"format":"%b-%y","labelAngle":-45,"labelOverlap":false,"tickCount":{"interval":"month","step":1}}},"y":{"field":"v","type":"quantitative","scale":{"domain":[0,100]},"axis":{"values":[0,20,40,60,80,100],"labelOverlap":false,"title":"Percentage (%)","labelFontSize":15,"titleFontSize":14.5,"labelPadding":1,"titlePadding":3}}}}]}
]}
]}
]
}
